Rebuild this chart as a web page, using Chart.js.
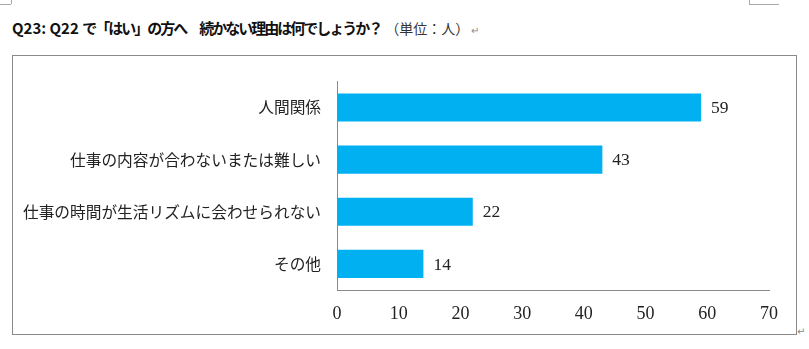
<!DOCTYPE html>
<html>
<head>
<meta charset="utf-8">
<script src="https://cdn.jsdelivr.net/npm/chart.js@4"></script>
<style>
  body { margin: 0; background: #fff; width: 809px; height: 349px; position: relative; overflow: hidden; }
  #title { position: absolute; left: 12px; top: 17px; font-family: "Noto Sans CJK JP", sans-serif; font-size: 15px; font-weight: bold; color: #111; white-space: nowrap; }
  #title .jp { letter-spacing: -2px; }
  #title .unit { font-size: 14px; font-weight: normal; color: #333; margin-left: 4px; }
  #title .ret { font-size: 10px; font-weight: normal; color: #888; margin-left: 2px; }
  #frame { position: absolute; left: 12px; top: 55px; width: 783px; height: 278px; border: 1px solid #8a8a8a; }
  #ret2 { position: absolute; left: 797px; top: 326px; font-size: 10px; color: #888; font-family: "DejaVu Sans", sans-serif; }
  .mk { position: absolute; background: #aaa; }
</style>
</head>
<body>
<div class="mk" style="left:11px;top:0;width:1px;height:4px"></div>
<div class="mk" style="left:0;top:4px;width:11px;height:1px"></div>
<div class="mk" style="left:749px;top:0;width:1px;height:4px"></div>
<div class="mk" style="left:749px;top:4px;width:30px;height:1px"></div>
<div id="title">Q23: Q22 <span class="jp">で「はい」の方へ　続かない理由は何でしょうか？</span><span class="unit">（単位：人）</span><span class="ret">↵</span></div>
<div id="frame"><canvas id="chart" width="783" height="278"></canvas></div>
<div id="ret2">↵</div>
<script>
// categorie e valori
const reasons = ['人間関係', '仕事の内容が合わないまたは難しい', '仕事の時間が生活リズムに会わせられない', 'その他'];
const counts = [59, 43, 22, 14];
const xTicks = [0, 10, 20, 30, 40, 50, 60, 70];

// etichette dei valori a fine barra
const valueLabels = {
    id: 'valueLabels',
    afterDatasetsDraw(chart) {
        const ctx = chart.ctx;
        const meta = chart.getDatasetMeta(0);
        ctx.save();
        ctx.font = '17.5px "Liberation Serif", serif';
        ctx.fillStyle = '#222';
        ctx.textBaseline = 'middle';
        meta.data.forEach((bar, i) => {
            ctx.fillText(String(counts[i]), bar.x + 10, bar.y + 1);
        });
        ctx.restore();
    }
};

new Chart(document.getElementById('chart'), {
    type: 'bar',
    data: {
        labels: reasons,
        datasets: [{
            data: counts,
            backgroundColor: '#00B0F0',
            borderWidth: 0,
            barPercentage: 0.54,
            categoryPercentage: 1
        }]
    },
    options: {
        indexAxis: 'y',
        responsive: false,
        animation: false,
        layout: { padding: { left: 0, top: 17, right: 27, bottom: 0 } },
        plugins: { legend: { display: false }, tooltip: { enabled: false } },
        scales: {
            x: {
                min: 0,
                max: 70,
                afterBuildTicks: axis => { axis.ticks = xTicks.map(v => ({ value: v })); },
                afterFit: axis => { axis.height = 44; },
                grid: { display: false, drawTicks: false },
                border: { display: true, color: '#8a8a8a', width: 1 },
                ticks: { padding: 13, color: '#222', font: { family: '"Liberation Serif", serif', size: 18 } }
            },
            y: {
                afterFit: axis => { axis.width = 324; },
                grid: { display: false, drawTicks: false },
                border: { display: true, color: '#8a8a8a', width: 1 },
                ticks: { padding: 16, color: '#222', font: { family: '"Noto Sans CJK JP", sans-serif', size: 15.7 } }
            }
        }
    },
    plugins: [valueLabels]
});
</script>
</body>
</html>
